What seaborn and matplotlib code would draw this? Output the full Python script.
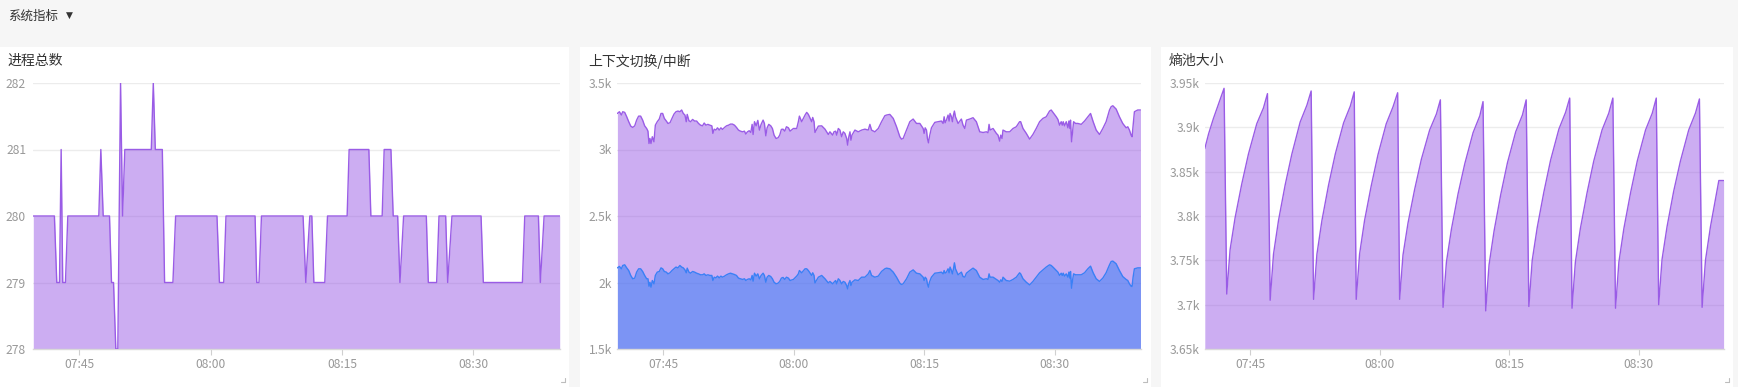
import matplotlib
matplotlib.use("Agg")
import matplotlib.pyplot as plt
from matplotlib.patches import Rectangle
from matplotlib.lines import Line2D
import seaborn as sns

# ---------------- data (time = minutes after 07:00) ----------------
x_ticks = [45, 60, 75, 90]
x_tick_labels = ["07:45", "08:00", "08:15", "08:30"]

# Panel 1: 进程总数
proc_t = [39.75, 42.16, 42.43, 42.74, 42.93, 43.11, 43.42, 43.69, 47.23, 47.46, 47.73,
          48.45, 48.68, 48.91, 49.17, 49.40, 49.71, 49.94, 50.20, 53.22, 53.45, 53.68,
          54.48, 54.74, 55.69, 56.00, 60.72, 61.00, 61.49, 61.75, 65.07, 65.26, 65.52,
          65.80, 70.55, 70.86, 71.32, 71.55, 71.78, 73.03, 73.34, 75.58, 75.81, 78.06,
          78.29, 79.58, 79.81, 80.58, 80.84, 81.35, 81.61, 82.03, 84.62, 84.85, 85.80,
          86.07, 86.83, 87.06, 87.55, 90.87, 91.13, 95.59, 95.86, 97.42, 97.64, 98.07, 99.85]
proc_v = [280, 280, 279, 279, 281, 279, 279, 280, 280, 281, 280,
          280, 279, 279, 278, 278, 282, 280, 281, 281, 282, 281,
          281, 279, 279, 280, 280, 279, 279, 280, 280, 279, 279,
          280, 280, 279, 280, 280, 279, 279, 280, 280, 281, 281,
          280, 280, 281, 281, 280, 280, 279, 280, 280, 279, 279,
          280, 280, 279, 280, 280, 279, 279, 280, 280, 279, 280, 280]
proc_yticks = [278, 279, 280, 281, 282]
proc_ylabels = ["278", "279", "280", "281", "282"]

# Panel 2: 上下文切换/中断
cs_t = [39.75, 39.98, 40.21, 40.36, 40.59, 40.82, 41.05, 41.28, 41.51, 41.74,
        41.96, 42.19, 42.42, 42.65, 42.88, 43.11, 43.26, 43.38, 43.49, 43.61,
        43.76, 43.95, 44.11, 44.33, 44.56, 44.76, 44.95, 45.14, 45.37, 45.56,
        45.79, 46.02, 46.25, 46.48, 46.70, 46.93, 47.13, 47.32, 47.51, 47.66,
        47.77, 47.97, 48.16, 48.39, 48.62, 48.85, 49.07, 49.30, 49.53, 49.72,
        49.92, 50.15, 50.37, 50.60, 50.72, 50.87, 51.06, 51.25, 51.45, 51.64,
        51.83, 52.06, 52.29, 52.52, 52.74, 52.97, 53.20, 53.43, 53.66, 53.89,
        54.12, 54.35, 54.50, 54.69, 54.89, 55.08, 55.23, 55.34, 55.50, 55.69,
        55.88, 56.07, 56.26, 56.49, 56.64, 56.80, 56.95, 57.14, 57.37, 57.56,
        57.75, 57.98, 58.21, 58.40, 58.59, 58.78, 58.98, 59.17, 59.40,
        59.59, 59.97, 60.35, 60.54, 60.66, 60.92, 61.31, 61.50, 61.69, 62.07,
        62.19, 62.34, 62.45, 62.84, 63.22, 63.60, 63.98, 64.17, 64.48, 64.63,
        64.82, 64.94, 65.13, 65.32, 65.51, 65.70, 65.89, 66.09, 66.20, 66.31,
        66.47, 66.58, 66.70, 67.04, 67.42, 67.81, 68.19, 68.57, 68.76, 68.95,
        69.33, 69.72, 70.10, 70.48, 70.67, 71.05, 71.44, 71.82, 72.20, 72.39,
        72.58, 72.97, 73.35, 73.73, 74.11, 74.50, 74.88, 74.99, 75.11, 75.26,
        75.37, 75.49, 75.60, 75.83, 76.22, 76.60, 76.98, 77.17, 77.29, 77.40,
        77.55, 77.74, 77.86, 77.97, 78.13, 78.24, 78.36, 78.47, 78.59, 78.89,
        79.27, 79.46,
        79.66, 79.85, 80.23, 80.61, 80.99, 81.38, 81.76, 82.14, 82.33, 82.45,
        82.56, 82.91, 83.29, 83.48, 83.67, 83.79, 83.94, 84.05, 84.43, 84.82,
        85.20, 85.58, 85.96, 86.08, 86.35, 86.73, 87.11, 87.49, 87.87, 88.26,
        88.64, 89.02, 89.40, 89.59, 89.79, 90.17, 90.36, 90.55, 90.74, 90.86,
        90.97, 91.12, 91.32, 91.51, 91.62, 91.74, 91.81, 91.93, 92.04, 92.16,
        92.39, 92.65, 93.04, 93.42, 93.80, 94.11, 94.41, 94.76, 95.14, 95.52,
        95.90, 96.29, 96.48, 96.67, 97.05, 97.43, 97.81, 98.20, 98.39, 98.58,
        98.77, 98.88, 99.00, 99.15, 99.53, 99.85]
cs_switch = [3271, 3284, 3259, 3284, 3279, 3246, 3209, 3176, 3166, 3178,
             3221, 3251, 3251, 3221, 3178, 3158, 3138, 3045, 3083, 3045,
             3096, 3058, 3183, 3209, 3229, 3271, 3271, 3234, 3214, 3196,
             3201, 3234, 3266, 3284, 3289, 3284, 3297, 3271, 3259, 3209,
             3264, 3216, 3209, 3226, 3214, 3214, 3196, 3183, 3178, 3199,
             3183, 3189, 3183, 3178, 3121, 3153, 3146, 3163, 3146, 3163,
             3151, 3166, 3178, 3183, 3191, 3191, 3183, 3166, 3146, 3138,
             3133, 3138, 3116, 3133, 3141, 3128, 3189, 3113, 3209, 3178,
             3219, 3146, 3189, 3221, 3196, 3103, 3163, 3189, 3178, 3158,
             3108, 3083, 3088, 3108, 3151, 3153, 3138, 3171, 3163,
             3138, 3158, 3158, 3209, 3251, 3209, 3259, 3279, 3264, 3209,
             3241, 3209, 3128, 3176, 3178, 3153, 3113, 3133, 3108, 3133,
             3138, 3108, 3158, 3146, 3096, 3133, 3121, 3083, 3033, 3088,
             3133, 3070, 3108, 3146, 3133, 3146, 3153, 3146, 3189, 3146,
             3133, 3158, 3209, 3254, 3259, 3264, 3234, 3171, 3096, 3078,
             3083, 3146, 3209, 3229, 3196, 3196, 3158, 3121, 3163, 3146,
             3083, 3050, 3096, 3163, 3204, 3209, 3214, 3196, 3246, 3201,
             3221, 3259, 3214, 3271, 3246, 3209, 3259, 3289, 3246, 3196,
             3229, 3183,
             3158, 3221, 3229, 3239, 3209, 3133, 3128, 3133, 3126, 3189,
             3146, 3158, 3121, 3108, 3063, 3108, 3083, 3146, 3133, 3133,
             3158, 3171, 3209, 3209, 3158, 3121, 3078, 3113, 3158, 3209,
             3234, 3246, 3289, 3297, 3279, 3246, 3226, 3183, 3209, 3183,
             3209, 3178, 3209, 3163, 3214, 3158, 3221, 3058, 3133, 3209,
             3196, 3196, 3189, 3214, 3246, 3271, 3209, 3146, 3113, 3158,
             3209, 3297, 3322, 3329, 3304, 3246, 3196, 3163, 3171, 3146,
             3108, 3096, 3183, 3284, 3297, 3297]
cs_intr = [2110, 2121, 2103, 2128, 2133, 2110, 2090, 2053, 2028, 2033,
           2078, 2103, 2103, 2083, 2053, 2028, 2028, 1972, 2002, 1965,
           2015, 1990, 2053, 2078, 2083, 2110, 2103, 2083, 2078, 2065,
           2073, 2090, 2103, 2116, 2110, 2128, 2116, 2110, 2095, 2073,
           2108, 2078, 2070, 2083, 2078, 2070, 2065, 2058, 2058, 2065,
           2053, 2058, 2053, 2053, 2015, 2040, 2035, 2048, 2035, 2048,
           2040, 2048, 2058, 2065, 2070, 2065, 2060, 2053, 2033, 2028,
           2023, 2028, 2015, 2023, 2028, 2020, 2053, 2010, 2070, 2048,
           2065, 2028, 2053, 2070, 2053, 2002, 2040, 2053, 2045, 2028,
           2002, 1990, 1995, 2008, 2033, 2038, 2023, 2040, 2033,
           2015, 2023, 2048, 2065, 2090, 2073, 2103, 2103, 2090, 2053,
           2073, 2053, 1997, 2040, 2053, 2028, 1997, 2008, 1990, 2002,
           2015, 1990, 2028, 2015, 1990, 2008, 2002, 1977, 1952, 1990,
           2015, 1977, 2002, 2020, 2015, 2040, 2040, 2065, 2090, 2053,
           2040, 2048, 2083, 2103, 2108, 2103, 2078, 2040, 1995, 1985,
           1990, 2028, 2078, 2095, 2070, 2065, 2040, 2015, 2040, 2028,
           1990, 1965, 2002, 2040, 2070, 2073, 2078, 2065, 2090, 2070,
           2078, 2103, 2073, 2116, 2090, 2065, 2103, 2148, 2103, 2058,
           2078, 2045,
           2040, 2070, 2090, 2108, 2090, 2040, 2023, 2028, 2023, 2065,
           2040, 2040, 2023, 2015, 2002, 2020, 2008, 2040, 2015, 2010,
           2023, 2040, 2073, 2065, 2028, 2002, 1982, 2008, 2040, 2073,
           2095, 2116, 2133, 2128, 2116, 2090, 2078, 2053, 2070, 2053,
           2070, 2048, 2065, 2040, 2078, 2033, 2083, 1957, 2015, 2065,
           2058, 2058, 2058, 2073, 2103, 2123, 2073, 2028, 2008, 2033,
           2073, 2133, 2158, 2161, 2141, 2090, 2045, 2023, 2015, 1990,
           1972, 1970, 2040, 2103, 2110, 2110]
cs_yticks = [1500, 2000, 2500, 3000, 3500]
cs_ylabels = ["1.5k", "2k", "2.5k", "3k", "3.5k"]

# Panel 3: 熵池大小
ent_t = [39.75, 40.20, 40.75, 41.33, 41.98,
         42.29, 42.68, 43.26, 44.03, 44.81, 45.77, 46.55, 47.01,
         47.32, 47.71, 48.29, 49.06, 49.84, 50.80, 51.58, 52.07,
         52.35, 52.74, 53.32, 54.09, 54.87, 55.83, 56.61, 57.06,
         57.29, 57.68, 58.26, 59.03, 59.81, 60.77, 61.55, 62.09,
         62.32, 62.71, 63.29, 64.06, 64.84, 65.80, 66.58, 67.04,
         67.35, 67.74, 68.32, 69.09, 69.87, 70.83, 71.61, 71.98,
         72.29, 72.68, 73.26, 74.03, 74.81, 75.77, 76.55, 76.98,
         77.29, 77.68, 78.26, 79.03, 79.81, 80.77, 81.55, 82.02,
         82.29, 82.68, 83.26, 84.03, 84.81, 85.77, 86.55, 87.02,
         87.33, 87.72, 88.30, 89.07, 89.85, 90.81, 91.59, 92.05,
         92.33, 92.72, 93.30, 94.07, 94.85, 95.81, 96.59, 97.05,
         97.36, 97.75, 98.33, 99.30, 99.85]
ent_v = [3876, 3893, 3910, 3926, 3944,
         3712, 3762, 3798, 3836, 3870, 3904, 3922, 3938,
         3705, 3757, 3795, 3835, 3870, 3906, 3925, 3941,
         3706, 3757, 3795, 3835, 3870, 3905, 3924, 3940,
         3706, 3757, 3795, 3834, 3869, 3904, 3923, 3939,
         3706, 3756, 3792, 3830, 3864, 3897, 3915, 3931,
         3697, 3748, 3785, 3825, 3859, 3894, 3913, 3929,
         3693, 3745, 3783, 3824, 3860, 3895, 3914, 3931,
         3698, 3750, 3787, 3827, 3863, 3898, 3917, 3933,
         3696, 3748, 3786, 3826, 3862, 3897, 3916, 3933,
         3696, 3748, 3786, 3826, 3862, 3897, 3916, 3933,
         3700, 3751, 3788, 3828, 3862, 3897, 3916, 3932,
         3697, 3750, 3788, 3840, 3840]
ent_yticks = [3650, 3700, 3750, 3800, 3850, 3900, 3950]
ent_ylabels = ["3.65k", "3.7k", "3.75k", "3.8k", "3.85k", "3.9k", "3.95k"]

titles = ["进程总数", "上下文切换/中断", "熵池大小"]
header = "系统指标"

# ---------------- style ----------------
sns.set_theme(style="white")
plt.rcParams['font.family'] = ['Noto Sans CJK SC', 'DejaVu Sans']

PURPLE = "#9a5ce6"
BLUE = "#3a80f6"
W, H = 1738, 387

fig = plt.figure(figsize=(W / 100, H / 100), dpi=100, facecolor="#f6f6f6")


def fx(x):
    return x / W


def fy(y):
    return 1 - y / H


# cards
cards = [(0, 569), (579.5, 1150.5), (1160.5, 1733)]
for x0, x1 in cards:
    fig.add_artist(Rectangle((fx(x0), 0), fx(x1 - x0), fy(46.7), transform=fig.transFigure,
                             facecolor="white", edgecolor="none", zorder=0))
    # resize handle
    fig.add_artist(Line2D([fx(x1 - 8), fx(x1 - 4)], [fy(382), fy(382)], transform=fig.transFigure,
                          color="#bdbdbd", lw=0.8))
    fig.add_artist(Line2D([fx(x1 - 4), fx(x1 - 4)], [fy(378), fy(382)], transform=fig.transFigure,
                          color="#bdbdbd", lw=0.8))

fig.text(fx(8), fy(16), header, fontsize=9, color="#333333", va="center", ha="left")
fig.text(fx(69), fy(15.5), "▼", fontsize=6.5, color="#333333", va="center", ha="center",
         family=["DejaVu Sans"])

axes_px = [(33.3, 559.7), (617.4, 1140.5), (1204.8, 1723.6)]
title_x = [7, 588, 1169]
ytick_pads = [5.2, 3.6, 3.6]
axes = []
for (x0, x1), tx, title, pad in zip(axes_px, title_x, titles, ytick_pads):
    ax = fig.add_axes([fx(x0), fy(349), fx(x1 - x0), (349 - 83) / H])
    ax.set_facecolor("none")
    fig.text(fx(tx), fy(61), title, fontsize=10, color="#333333", va="center", ha="left")
    for s in ["top", "right", "left"]:
        ax.spines[s].set_visible(False)
    ax.spines["bottom"].set_color("#d9d9d9")
    ax.spines["bottom"].set_linewidth(1)
    ax.grid(axis="y", color="#ececec", lw=1)
    ax.grid(axis="x", visible=False)
    ax.set_axisbelow(True)
    ax.tick_params(axis="x", length=4, width=0.8, color="#d0d0d0", labelcolor="#999999",
                   labelsize=8.7, pad=2.5, bottom=True)
    ax.tick_params(axis="y", length=0, labelcolor="#999999", labelsize=8.7, pad=pad)
    axes.append(ax)

ax1, ax2, ax3 = axes

# panel 1
ax1.fill_between(proc_t, proc_v, 278, color=PURPLE, alpha=0.5, lw=0, zorder=2)
sns.lineplot(x=proc_t, y=proc_v, ax=ax1, color=PURPLE, linewidth=1, estimator=None, sort=False, zorder=3)
ax1.set_ylim(278, 282)
ax1.set_yticks(proc_yticks)
ax1.set_yticklabels(proc_ylabels)

# panel 2
ax2.fill_between(cs_t, cs_switch, 1500, color=PURPLE, alpha=0.5, lw=0, zorder=2)
ax2.fill_between(cs_t, cs_intr, 1500, color=BLUE, alpha=0.55, lw=0, zorder=2)
sns.lineplot(x=cs_t, y=cs_switch, ax=ax2, color=PURPLE, linewidth=1, estimator=None, sort=False, zorder=3)
sns.lineplot(x=cs_t, y=cs_intr, ax=ax2, color=BLUE, linewidth=1, estimator=None, sort=False, zorder=3)
ax2.set_ylim(1500, 3500)
ax2.set_yticks(cs_yticks)
ax2.set_yticklabels(cs_ylabels)

# panel 3
ax3.fill_between(ent_t, ent_v, 3650, color=PURPLE, alpha=0.5, lw=0, zorder=2)
sns.lineplot(x=ent_t, y=ent_v, ax=ax3, color=PURPLE, linewidth=1, estimator=None, sort=False, zorder=3)
ax3.set_ylim(3650, 3950)
ax3.set_yticks(ent_yticks)
ax3.set_yticklabels(ent_ylabels)

for ax in axes:
    ax.set_xlim(39.75, 99.85)
    ax.set_xticks(x_ticks)
    ax.set_xticklabels(x_tick_labels)
    ax.set_xlabel("")
    ax.set_ylabel("")

fig.savefig("out.png", dpi=100, facecolor=fig.get_facecolor())
